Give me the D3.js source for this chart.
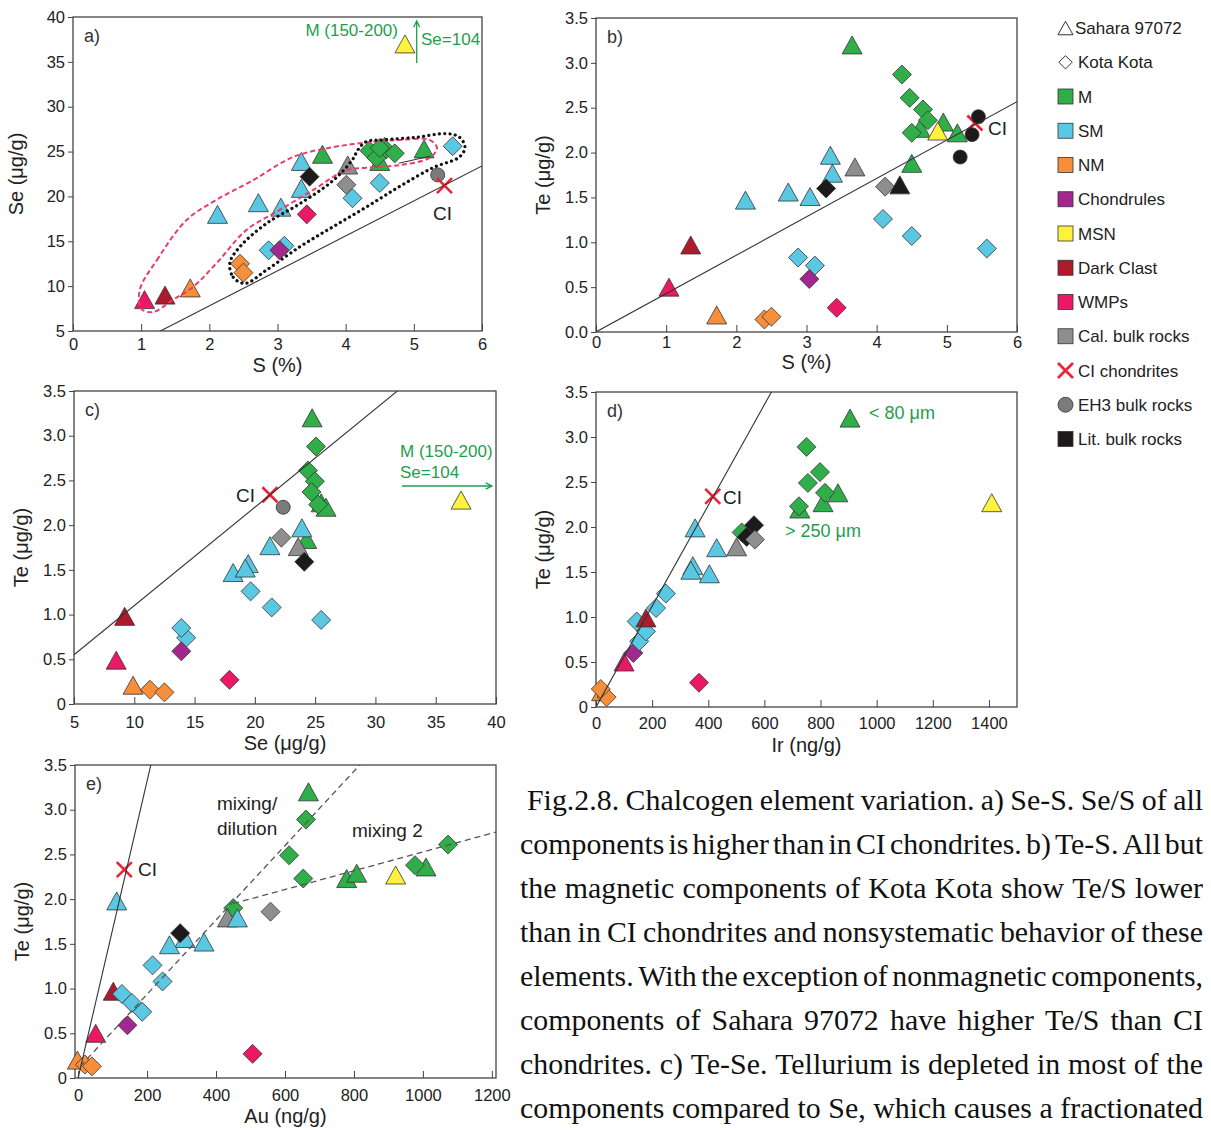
<!DOCTYPE html>
<html>
<head>
<meta charset="utf-8">
<script src="https://cdn.jsdelivr.net/npm/d3@7"></script>
<style>
  body { margin: 0; background: #fff; }
</style>
</head>
<body>
<div id="chart"></div>
<script>
// Chalcogen element variation, five scatter panels + legend + caption

// ---- data: [group, kind, x, y]; kind S = Sahara 97072 (triangle), K = Kota Kota (diamond),
// B = bulk rock (circle), X = CI chondrite
const dataA = [ // S (%) vs Se (ug/g)
  ["WMPs","S",1.05,8.5], ["Dark Clast","S",1.35,9.0], ["NM","S",1.72,9.8],
  ["SM","S",2.12,18.0], ["NM","K",2.45,12.5], ["NM","K",2.5,11.5],
  ["SM","K",2.87,14.0], ["SM","K",3.1,14.5], ["Chondrules","K",3.03,14.0],
  ["SM","S",2.72,19.3], ["SM","S",3.05,18.8], ["WMPs","K",3.43,18.0],
  ["SM","S",3.35,23.9], ["SM","S",3.35,20.9], ["Lit","K",3.47,22.2],
  ["M","S",3.66,24.7], ["Cal","S",4.03,23.5], ["Cal","K",4.01,21.3],
  ["SM","K",4.1,19.8], ["SM","K",4.5,21.5], ["M","S",4.5,23.9], ["M","S",4.57,25.6],
  ["M","K",4.35,25.1], ["M","K",4.59,25.2], ["M","K",4.45,24.3], ["M","K",4.5,25.4],
  ["M","K",4.72,24.8], ["M","S",5.15,25.3], ["SM","K",5.57,25.6],
  ["EH3","B",5.35,22.4], ["CI","X",5.45,21.2], ["MSN","S",4.87,37.0]
];
const dataB = [ // S (%) vs Te (ug/g)
  ["WMPs","S",1.04,0.5], ["Dark Clast","S",1.35,0.97], ["NM","S",1.72,0.19],
  ["NM","K",2.40,0.14], ["NM","K",2.5,0.17], ["SM","S",2.13,1.47],
  ["SM","S",2.74,1.56], ["SM","S",3.05,1.51], ["SM","S",3.34,1.97], ["SM","S",3.37,1.77],
  ["Lit","K",3.28,1.6], ["Cal","S",3.69,1.84], ["SM","K",2.88,0.83], ["SM","K",3.12,0.74],
  ["Chondrules","K",3.04,0.59], ["WMPs","K",3.43,0.27], ["SM","K",4.09,1.26],
  ["SM","K",4.5,1.07], ["SM","K",5.57,0.93], ["Cal","K",4.12,1.62], ["Lit","S",4.33,1.64],
  ["M","S",3.65,3.2], ["M","S",4.5,1.88], ["M","S",4.62,2.27], ["M","S",4.95,2.34],
  ["M","S",5.15,2.22], ["M","K",4.36,2.87], ["M","K",4.47,2.61], ["M","K",4.66,2.48],
  ["M","K",4.73,2.36], ["M","K",4.5,2.22], ["MSN","S",4.87,2.24], ["CI","X",5.40,2.33],
  ["Lit","B",5.45,2.40], ["Lit","B",5.36,2.2], ["Lit","B",5.19,1.95]
];
const dataC = [ // Se (ug/g) vs Te (ug/g)
  ["WMPs","S",8.5,0.49], ["Dark Clast","S",9.2,0.98], ["NM","S",9.9,0.21],
  ["NM","K",11.3,0.16], ["NM","K",12.5,0.13], ["SM","K",14.3,0.74], ["SM","K",13.9,0.85],
  ["Chondrules","K",13.9,0.59], ["WMPs","K",17.9,0.27], ["SM","S",18.2,1.47],
  ["SM","S",19.45,1.57], ["SM","S",19.2,1.52], ["SM","K",19.65,1.26], ["SM","K",21.4,1.08],
  ["SM","K",25.5,0.94], ["SM","S",21.25,1.77], ["Cal","K",22.2,1.86], ["M","S",24.3,1.84],
  ["SM","S",23.9,1.97], ["Cal","S",23.6,1.76], ["Lit","K",24.1,1.59],
  ["M","S",24.75,3.2], ["M","S",25.5,2.25], ["M","S",25.9,2.2], ["M","K",25.07,2.88],
  ["M","K",24.4,2.61], ["M","K",24.98,2.49], ["M","K",24.7,2.37], ["M","K",25.25,2.23],
  ["EH3","B",22.35,2.2], ["CI","X",21.25,2.34], ["MSN","S",37.1,2.28]
];
const dataD = [ // Ir (ng/g) vs Te (ug/g)
  ["NM","S",20,0.17], ["NM","K",38,0.11], ["NM","K",17,0.2], ["WMPs","S",100,0.5],
  ["Chondrules","K",133,0.6], ["SM","K",154,0.73], ["SM","K",178,0.84], ["SM","K",145,0.95],
  ["Dark Clast","S",178,0.99], ["SM","K",214,1.1], ["SM","K",249,1.26], ["WMPs","K",367,0.27],
  ["SM","S",353,1.99], ["SM","S",430,1.77], ["SM","S",345,1.57], ["SM","S",338,1.52],
  ["SM","S",404,1.48], ["M","K",519,1.94], ["Lit","K",563,2.02], ["Lit","K",537,1.89],
  ["Cal","S",501,1.78], ["Cal","K",566,1.86], ["CI","X",416,2.34],
  ["M","S",905,3.21], ["M","S",862,2.38], ["M","S",809,2.27], ["M","S",726,2.2],
  ["M","K",750,2.89], ["M","K",798,2.61], ["M","K",755,2.49], ["M","K",816,2.38],
  ["M","K",723,2.23], ["MSN","S",1410,2.27]
];
const dataE = [ // Au (ng/g) vs Te (ug/g)
  ["NM","S",-2,0.2], ["NM","K",20,0.15], ["NM","K",40,0.13], ["WMPs","S",51,0.5],
  ["Dark Clast","S",102,0.97], ["SM","K",127,0.94], ["SM","K",156,0.84], ["SM","K",186,0.74],
  ["Chondrules","K",143,0.59], ["SM","K",216,1.26], ["SM","K",245,1.08], ["SM","S",112,1.98],
  ["WMPs","K",506,0.27], ["SM","S",310,1.56], ["Lit","K",296,1.62], ["SM","S",265,1.49],
  ["SM","S",365,1.52], ["M","K",450,1.9], ["Cal","S",433,1.79], ["SM","S",462,1.79],
  ["Cal","K",558,1.86], ["M","S",668,3.2], ["M","K",661,2.89], ["M","K",612,2.49],
  ["M","K",653,2.23], ["M","S",779,2.23], ["M","S",808,2.29], ["M","S",1009,2.36],
  ["M","K",977,2.38], ["M","K",1073,2.61], ["MSN","S",921,2.27], ["CI","X",134,2.33]
];

// CI ratio lines (y = k * x)
const ciSeS = 3.9, ciTeS = 0.428, ciTeSe = 0.11, ciTeIr = 0.0056, ciTeAu = 0.0166;
// panel e mixing lines
const mixLine1 = [[6,0.13],[817,3.5]];
const mixLine2 = [[450,1.95],[1212,2.75]];
// panel a outlines and short connector
const segA = [[4.78,23.7],[5.25,24.5]];
const pinkLoop = [[0.98,9.6],[1.23,12.9],[1.67,17.4],[2.1,19.6],[2.64,21.8],[3.23,24.4],[3.82,25.5],
  [4.3,26.0],[4.8,26.3],[5.23,26.3],[5.34,25.4],[5.23,24.3],[4.8,23.5],[4.3,23.2],[4.0,22.9],
  [3.52,20.7],[2.99,18.3],[2.55,16.3],[2.11,12.6],[1.76,9.9],[1.47,8.5],[1.17,7.1],[1.0,7.5]];
const dotLoop = [[2.3,12.6],[2.35,11.0],[2.52,10.3],[2.84,11.8],[3.33,14.4],[3.81,16.6],[4.3,18.8],
  [4.79,21.1],[5.28,23.2],[5.67,24.4],[5.75,25.5],[5.67,26.6],[5.48,27.0],[5.04,26.6],[4.55,26.3],
  [4.3,26.1],[4.18,25.2],[4.1,24.1],[3.82,21.8],[3.33,19.2],[2.84,17.0],[2.45,14.4]];

const legendItems = [
  ["Sahara 97072","S"], ["Kota Kota","K"], ["M","M"], ["SM","SM"], ["NM","NM"],
  ["Chondrules","Chondrules"], ["MSN","MSN"], ["Dark Clast","Dark Clast"], ["WMPs","WMPs"],
  ["Cal. bulk rocks","Cal"], ["CI chondrites","CI"], ["EH3 bulk rocks","EH3"], ["Lit. bulk rocks","Lit"]
];

const captionLines = [
  "Fig.2.8. Chalcogen element variation. a) Se-S. Se/S of all",
  "components is higher than in CI chondrites. b) Te-S. All but",
  "the magnetic components of Kota Kota show Te/S lower",
  "than in CI chondrites and nonsystematic behavior of these",
  "elements. With the exception of nonmagnetic components,",
  "components of Sahara 97072 have higher Te/S than CI",
  "chondrites. c) Te-Se. Tellurium is depleted in most of the",
  "components compared to Se, which causes a fractionated"
];

// ---- styles
const colors = {
  M: "#2fae4a", SM: "#5ac7e3", NM: "#f68e3a", Chondrules: "#a2288e", MSN: "#fff23c",
  "Dark Clast": "#ad1a2c", WMPs: "#eb1865", Cal: "#8e8e8e", EH3: "#7b7b7b", Lit: "#1d1a1b",
  CI: "#ee2233"
};
const green = "#1f9e4c";
const font = "'Liberation Sans', Arial, sans-serif";

const width = 1211, height = 1130;
const svg = d3.select("#chart").append("svg")
  .attr("width", width).attr("height", height)
  .style("font-family", font);
svg.append("rect").attr("width", width).attr("height", height).attr("fill", "#fff");

function markPath(kind, s) {
  s = s || 1;
  if (kind === "S") { const w = 10 * s, h = 9 * s; return `M0,${-h}L${w},${h}L${-w},${h}Z`; }
  if (kind === "K") { const r = 9.5 * s; return `M0,${-r}L${r},0L0,${r}L${-r},0Z`; }
  if (kind === "B") { return d3.arc()({innerRadius: 0, outerRadius: 7 * s, startAngle: 0, endAngle: 2 * Math.PI}); }
  const a = 7.5 * s; return `M${-a},${-a}L${a},${a}M${a},${-a}L${-a},${a}`;
}

function drawMarks(g, data, x, y) {
  g.append("g").selectAll("path").data(data).join("path")
    .attr("d", d => markPath(d[1]))
    .attr("transform", d => `translate(${x(d[2])},${y(d[3])})`)
    .attr("fill", d => d[1] === "X" ? "none" : colors[d[0]])
    .attr("stroke", d => d[1] === "X" ? colors.CI : "#333")
    .attr("stroke-width", d => d[1] === "X" ? 2.6 : 0.8);
}

const panels = [
  { id: "a", box: [73, 17, 482, 331], xDom: [0, 6], yDom: [5, 40], xTicks: d3.range(0, 7),
    yTicks: d3.range(5, 41, 5), yFmt: d3.format("d"), data: dataA, xLabel: "S (%)", yLabel: "Se (μg/g)",
    xTickOff: 7, xLabOff: 41, yLabOff: 50, ci: ciSeS },
  { id: "b", box: [596, 18, 1017, 332], xDom: [0, 6], yDom: [0, 3.5], xTicks: d3.range(0, 7),
    yTicks: d3.range(0, 3.51, 0.5), yFmt: d3.format(".1f"), data: dataB, xLabel: "S (%)", yLabel: "Te (μg/g)",
    xTickOff: 4, xLabOff: 37, yLabOff: 46, ci: ciTeS },
  { id: "c", box: [74, 391, 496, 704], xDom: [5, 40], yDom: [0, 3.5], xTicks: d3.range(5, 41, 5),
    yTicks: d3.range(0, 3.51, 0.5), yFmt: v => v === 0 ? "0" : d3.format(".1f")(v), data: dataC,
    xLabel: "Se (μg/g)", yLabel: "Te (μg/g)", xTickOff: 12, xLabOff: 46, yLabOff: 46, ci: ciTeSe },
  { id: "d", box: [596, 392, 1017, 707], xDom: [0, 1500], yDom: [0, 3.5], xTicks: d3.range(0, 1401, 200),
    yTicks: d3.range(0, 3.51, 0.5), yFmt: v => v === 0 ? "0" : d3.format(".1f")(v), data: dataD,
    xLabel: "Ir (ng/g)", yLabel: "Te (μg/g)", xTickOff: 10, xLabOff: 45, yLabOff: 46, ci: ciTeIr },
  { id: "e", box: [75, 765, 496, 1078], xDom: [-9, 1212], yDom: [0, 3.5], xTicks: d3.range(0, 1201, 200),
    yTicks: d3.range(0, 3.51, 0.5), yFmt: v => v === 0 ? "0" : d3.format(".1f")(v), data: dataE,
    xLabel: "Au (ng/g)", yLabel: "Te (μg/g)", xTickOff: 11, xLabOff: 45, yLabOff: 46, ci: ciTeAu }
];

panels.forEach(p => {
  const [l, t, r, b] = p.box;
  const x = d3.scaleLinear().domain(p.xDom).range([l, r]);
  const y = d3.scaleLinear().domain(p.yDom).range([b, t]);
  p.x = x; p.y = y;
  const g = svg.append("g").attr("class", "panel-" + p.id);

  svg.append("clipPath").attr("id", "clip-" + p.id)
    .append("rect").attr("x", l).attr("y", t).attr("width", r - l).attr("height", b - t);

  // axes
  const ya = g.append("g").attr("transform", `translate(${l},0)`)
    .call(d3.axisLeft(y).tickValues(p.yTicks).tickFormat(p.yFmt).tickSize(5).tickPadding(3));
  const xa = g.append("g").attr("transform", `translate(0,${b})`)
    .call(d3.axisBottom(x).tickValues(p.xTicks).tickFormat(d3.format("d")).tickSize(-7).tickPadding(p.xTickOff));
  [ya, xa].forEach(a => {
    a.select(".domain").remove();
    a.selectAll("line").attr("stroke", "#444");
    a.selectAll("text").attr("fill", "#222").style("font-size", "16.5px").style("font-family", font);
  });

  g.append("rect").attr("x", l).attr("y", t).attr("width", r - l).attr("height", b - t)
    .attr("fill", "none").attr("stroke", "#444").attr("stroke-width", 1.3);

  drawMarks(g, p.data, x, y);

  // CI ratio line
  const lg = g.append("g").attr("clip-path", `url(#clip-${p.id})`);
  const x0 = Math.max(p.xDom[0], 0), x1 = p.xDom[1];
  lg.append("line")
    .attr("x1", x(x0)).attr("y1", y(p.ci * x0)).attr("x2", x(x1)).attr("y2", y(p.ci * x1))
    .attr("stroke", "#333").attr("stroke-width", 1.1);
  p.lg = lg;

  // axis titles
  g.append("text").attr("x", (l + r) / 2).attr("y", b + p.xLabOff).attr("text-anchor", "middle")
    .style("font-size", "20px").attr("fill", "#222").text(p.xLabel);
  g.append("text").attr("transform", `translate(${l - p.yLabOff},${(t + b) / 2}) rotate(-90)`)
    .attr("text-anchor", "middle").style("font-size", "20px").attr("fill", "#222").text(p.yLabel);
  g.append("text").attr("x", l + 11).attr("y", t + 25).style("font-size", "18px").attr("fill", "#333")
    .text(p.id + ")");
  p.g = g;
});

// ---- panel annotations
const [pa, pb, pc, pd, pe] = panels;

pa.lg.append("path").attr("d", d3.line().curve(d3.curveCatmullRomClosed)(pinkLoop.map(d => [pa.x(d[0]), pa.y(d[1])])))
  .attr("fill", "none").attr("stroke", "#ea3b6e").attr("stroke-width", 2).attr("stroke-dasharray", "5,3");
pa.lg.append("path").attr("d", d3.line().curve(d3.curveCatmullRomClosed)(dotLoop.map(d => [pa.x(d[0]), pa.y(d[1])])))
  .attr("fill", "none").attr("stroke", "#111").attr("stroke-width", 3.2)
  .attr("stroke-linecap", "round").attr("stroke-dasharray", "0.1,5.2");
pa.lg.append("line").attr("x1", pa.x(segA[0][0])).attr("y1", pa.y(segA[0][1]))
  .attr("x2", pa.x(segA[1][0])).attr("y2", pa.y(segA[1][1])).attr("stroke", "#333").attr("stroke-width", 1);

function label(px, py, txt, opts) {
  opts = opts || {};
  return svg.append("text").attr("x", px).attr("y", py)
    .attr("text-anchor", opts.anchor || "start")
    .style("font-size", (opts.size || 19) + "px").attr("fill", opts.color || "#222").text(txt);
}
function arrow(x1, y1, x2, y2) {
  const a = Math.atan2(y2 - y1, x2 - x1), h = 7, w = 0.45;
  svg.append("path")
    .attr("d", `M${x1},${y1}L${x2},${y2}M${x2 - h * Math.cos(a - w)},${y2 - h * Math.sin(a - w)}L${x2},${y2}L${x2 - h * Math.cos(a + w)},${y2 - h * Math.sin(a + w)}`)
    .attr("fill", "none").attr("stroke", green).attr("stroke-width", 1.3);
}

// panel a
label(398, 36, "M (150-200)", { anchor: "end", size: 17, color: green });
label(421, 45, "Se=104", { size: 17, color: green });
arrow(416.7, 63, 416.7, 21);
label(433, 220, "CI");
// panel b
label(988, 135, "CI");
// panel c
label(400, 457, "M (150-200)", { size: 17, color: green });
label(400, 478, "Se=104", { size: 17, color: green });
arrow(402, 486, 492, 486);
label(236, 502, "CI");
// panel d
label(723, 504, "CI");
label(869, 419, "< 80 μm", { size: 18, color: green });
label(785, 537, "> 250 μm", { size: 18, color: green });
// panel e
[mixLine1, mixLine2].forEach(m => {
  pe.lg.append("line").attr("x1", pe.x(m[0][0])).attr("y1", pe.y(m[0][1]))
    .attr("x2", pe.x(m[1][0])).attr("y2", pe.y(m[1][1]))
    .attr("stroke", "#555").attr("stroke-width", 1.3).attr("stroke-dasharray", "6,4");
});
label(138, 876, "CI");
label(217, 810, "mixing/", { size: 19 });
label(217, 835, "dilution", { size: 19 });
label(352, 837, "mixing 2", { size: 19 });

// ---- legend
const leg = svg.append("g");
legendItems.forEach((it, i) => {
  const cy = 28 + i * 34.25, cx = 1065.5;
  const key = it[1];
  if (key === "S" || key === "K") {
    leg.append("path").attr("d", markPath(key, key === "S" ? 0.75 : 0.7))
      .attr("transform", `translate(${cx},${cy})`).attr("fill", "#fff").attr("stroke", "#333").attr("stroke-width", 1);
  } else if (key === "CI") {
    leg.append("path").attr("d", markPath("X", 1)).attr("transform", `translate(${cx},${cy})`)
      .attr("fill", "none").attr("stroke", colors.CI).attr("stroke-width", 2.8);
  } else if (key === "EH3") {
    leg.append("circle").attr("cx", cx).attr("cy", cy).attr("r", 7.5)
      .attr("fill", colors.EH3).attr("stroke", "#333").attr("stroke-width", 0.8);
  } else {
    leg.append("rect").attr("x", cx - 7.5).attr("y", cy - 7.5).attr("width", 15).attr("height", 15)
      .attr("fill", colors[key]).attr("stroke", "#333").attr("stroke-width", 0.8);
  }
  leg.append("text").attr("x", key === "S" ? 1075 : 1078).attr("y", cy + 6)
    .style("font-size", "17px").attr("fill", "#222").text(it[0]);
});

// ---- caption, justified line by line
const capLeft = 520, capRight = 1203, capBase = 810, capStep = 44, capSize = 30;
const ctx = document.createElement("canvas").getContext("2d");
ctx.font = `${capSize}px "Liberation Serif"`;
const spaceW = ctx.measureText(" ").width;
const capWords = captionLines.map(l => l.split(" "));
const starts = captionLines.map((l, i) => i === 0 ? capLeft + 7 : capLeft);
const natural = capWords.map(ws => d3.sum(ws, w => ctx.measureText(w).width) + spaceW * (ws.length - 1) * 0.55);
const sx = Math.min(1, d3.min(natural, (n, i) => (capRight - starts[i]) / n));
const cap = svg.append("g").style("font-family", "'Liberation Serif', 'Times New Roman', serif")
  .style("font-size", capSize + "px").attr("fill", "#111");
capWords.forEach((ws, i) => {
  const ww = ws.map(w => ctx.measureText(w).width * sx);
  const gap = (capRight - starts[i] - d3.sum(ww)) / (ws.length - 1);
  let xp = starts[i];
  ws.forEach((w, j) => {
    cap.append("text").attr("transform", `translate(${xp},${capBase + i * capStep}) scale(${sx},1)`).text(w);
    xp += ww[j] + gap;
  });
});
</script>
</body>
</html>
